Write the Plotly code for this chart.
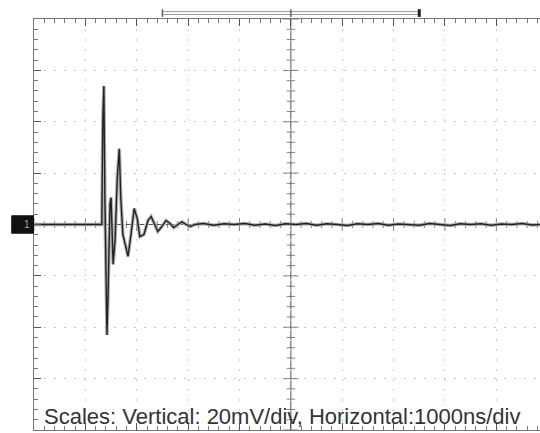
import plotly.graph_objects as go

# Oscilloscope capture: 20 mV/div vertical, 1000 ns/div horizontal, centre = 0
time_ns = [-5000, -4490, -4100, -3810, -3680, -3660, -3640, -3620, -3600, -3580,
           -3560, -3540, -3520, -3500, -3480, -3460, -3420, -3380, -3340, -3310,
           -3270, -3230, -3170, -3110, -3050, -2990, -2940, -2860, -2780, -2720,
           -2640, -2590, -2510, -2430, -2350, -2280, -2200, -2120, -2040, -1960,
           -1870, -1700, -1500, -1300, -1100, -900, -700, -500, -300, -100,
           100, 300, 500, 700, 900, 1100, 1300, 1500, 1700, 1900,
           2100, 2300, 2500, 2700, 2900, 3100, 3300, 3500, 3700, 3900,
           4100, 4300, 4500, 4700, 4850]
volt_mV = [0.0, 0.0, 0.2, 0.0, 0.0, 41.0, 53.9, 10.0, -24.8, -43.0,
           -28.7, -1.5, 8.1, 10.5, -5.4, -15.5, -5.4, 17.8, 29.5, 10.1,
           -3.9, -7.8, -12.4, -3.5, 6.2, 2.3, -4.7, -3.9, 1.6, 3.1,
           -0.8, -2.7, -0.8, 1.6, 0.4, -1.2, 0.0, 1.0, 0.0, -0.8,
           0.0, 0.4, -0.3, 0.3, 0.0, 0.4, -0.3, 0.2, -0.4, 0.3,
           0.0, 0.4, -0.3, 0.3, 0.0, -0.4, 0.3, 0.0, 0.4, -0.3,
           0.2, 0.0, -0.3, 0.4, 0.0, -0.4, 0.3, 0.0, 0.3, -0.3,
           0.2, 0.0, 0.4, -0.2, 0.0]

x_range = [-5000, 4850]
y_range = [-80, 80]
h_div = 1000      # ns per division
v_div = 20        # mV per division
memory_window = [-2500, 2500]
scale_text = "Scales: Vertical: 20mV/div, Horizontal:1000ns/div"

fig = go.Figure()

# centre-axis graticule ticks (5 per division)
hx = [-5000 + i * h_div / 5 for i in range(50) if -5000 + i * h_div / 5 != 0]
vy = [-80 + i * v_div / 5 for i in range(41) if -80 + i * v_div / 5 != 0]
fig.add_trace(go.Scatter(
    x=hx, y=[0] * len(hx), mode="markers", hoverinfo="skip",
    marker=dict(symbol="line-ns", size=[9 if v % h_div == 0 else 5 for v in hx],
                line=dict(color="#555", width=1))))
fig.add_trace(go.Scatter(
    x=[0] * len(vy), y=vy, mode="markers", hoverinfo="skip",
    marker=dict(symbol="line-ew", size=[11 if v % v_div == 0 else 6 for v in vy],
                line=dict(color="#555", width=1))))

# waveform: dim persistence halo + bright trace
fig.add_trace(go.Scatter(x=time_ns, y=volt_mV, mode="lines",
                         line=dict(color="#b0b0b0", width=3.5), hoverinfo="skip"))
fig.add_trace(go.Scatter(x=time_ns, y=volt_mV, mode="lines",
                         line=dict(color="#222", width=1.4)))

axis_common = dict(showgrid=True, gridcolor="#cccccc", gridwidth=1, griddash="2px,8px",
                   zeroline=False, showline=True, linecolor="#777", linewidth=1,
                   ticks="inside", ticklen=7, tickcolor="#555", showticklabels=False,
                   minor=dict(ticks="inside", ticklen=4, tickcolor="#777", showgrid=False))

fig.update_layout(
    width=540, height=433, autosize=False,
    margin=dict(l=34, r=0, t=19, b=3),
    paper_bgcolor="white", plot_bgcolor="white",
    showlegend=False,
    xaxis=dict(range=x_range, dtick=h_div, tick0=0, side="top", mirror="ticks",
               **{**axis_common, "minor": dict(axis_common["minor"], dtick=h_div / 5)}),
    yaxis=dict(range=y_range, dtick=v_div, tick0=0, side="left",
               **{**axis_common, "minor": dict(axis_common["minor"], dtick=v_div / 5)}),
    shapes=[
        # centre cross
        dict(type="line", xref="x", yref="paper", x0=0, x1=0, y0=0, y1=1,
             line=dict(color="#555", width=1), layer="below"),
        dict(type="line", xref="paper", yref="y", x0=0, x1=1, y0=0, y1=0,
             line=dict(color="#555", width=1), layer="below"),
        # memory window bracket above the graticule
        dict(type="rect", xref="x", yref="paper", x0=memory_window[0], x1=memory_window[1],
             y0=1.011, y1=1.018, line=dict(color="#999", width=1), fillcolor="white"),
        dict(type="line", xref="x", yref="paper", x0=memory_window[0], x1=memory_window[0],
             y0=1.005, y1=1.024, line=dict(color="#666", width=1.5)),
        dict(type="line", xref="x", yref="paper", x0=0, x1=0,
             y0=1.005, y1=1.024, line=dict(color="#666", width=1.5)),
        dict(type="line", xref="x", yref="paper", x0=memory_window[1], x1=memory_window[1],
             y0=1.005, y1=1.024, line=dict(color="#222", width=3)),
        # channel ground marker
        dict(type="rect", xref="paper", yref="y", x0=-0.044, x1=-0.001, y0=-3.4, y1=3.4,
             line=dict(color="#111", width=1), fillcolor="#111"),
    ],
    annotations=[
        dict(text="1", xref="paper", yref="y", x=-0.023, y=0, showarrow=False,
             font=dict(family="Liberation Sans", size=10, color="#aaa")),
        dict(text=scale_text, xref="paper", yref="paper", x=0.016, y=0.034,
             xanchor="left", yanchor="middle", showarrow=False,
             font=dict(family="Liberation Sans, Arial", size=22, color="#333")),
    ],
)

fig.write_html("out.html")
